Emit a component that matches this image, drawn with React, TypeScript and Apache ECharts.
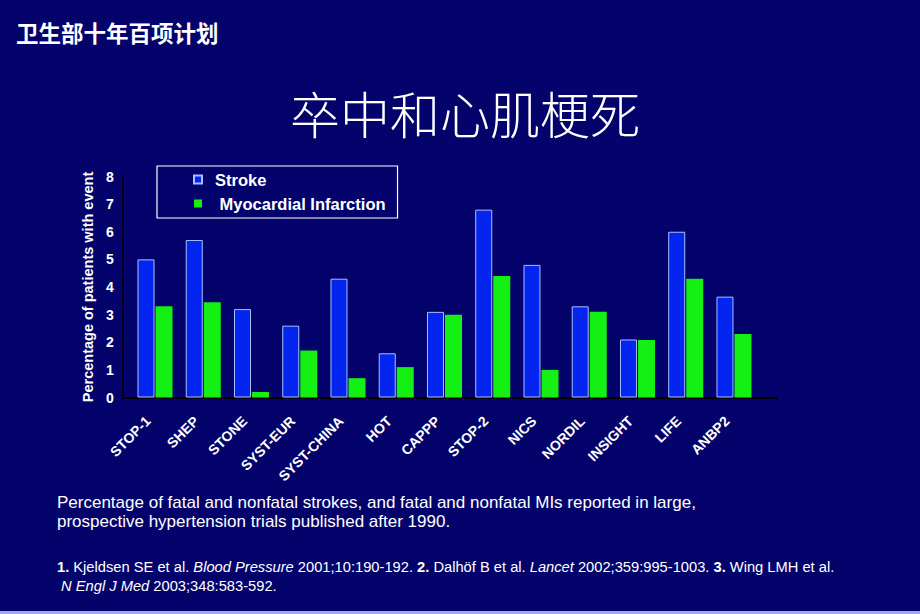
import React, { useEffect, useRef } from "react";
import * as echarts from "echarts";

const categories = ["STOP-1", "SHEP", "STONE", "SYST-EUR", "SYST-CHINA", "HOT", "CAPPP", "STOP-2", "NICS", "NORDIL", "INSIGHT", "LIFE", "ANBP2"];
const strokeValues = [5.0, 5.7, 3.2, 2.6, 4.3, 1.6, 3.1, 6.8, 4.8, 3.3, 2.1, 6.0, 3.65];
const miValues = [3.3, 3.45, 0.2, 1.7, 0.7, 1.1, 3.0, 4.4, 1.0, 3.1, 2.08, 4.3, 2.3];
const yTicks = [0, 1, 2, 3, 4, 5, 6, 7, 8];

const BG = "#03036b";
const BLUE = "#0424f0";
const GREEN = "#14f014";
const SANS = "'Liberation Sans', Arial, sans-serif";
const CJK = "'Noto Sans CJK SC', sans-serif";

export default function App() {
  const ref = useRef<HTMLDivElement>(null);
  useEffect(() => {
    if (!ref.current) return;
    const chart = echarts.init(ref.current, null, { renderer: "svg" });
    const top = 176.5;
    const bottom = 614 - 397.5;
    chart.setOption({
      animation: false,
      backgroundColor: BG,
      grid: [
        { left: 130.9, right: 161.9, top, bottom },
        { left: 122.7, right: 143, top, bottom },
      ],
      legend: {
        orient: "vertical",
        left: 157,
        top: 166,
        padding: [5, 12, 6, 36],
        itemGap: 7,
        itemWidth: 8,
        itemHeight: 8,
        borderColor: "#ffffff",
        borderWidth: 1.2,
        icon: "rect",
        formatter: (n: string) => (n === "Stroke" ? n : " " + n),
        textStyle: {
          color: "#ffffff",
          fontFamily: SANS,
          fontWeight: "bold",
          fontSize: 16.5,
          padding: [0, 0, 0, 8],
        },
        data: ["Stroke", "Myocardial Infarction"],
      },
      xAxis: [
        {
          type: "category",
          gridIndex: 0,
          data: categories,
          axisLine: { show: false },
          axisTick: { show: false },
          axisLabel: {
            rotate: 45,
            interval: 0,
            margin: 14,
            padding: [0, 10, 0, 0],
            color: "#ffffff",
            fontFamily: SANS,
            fontWeight: "bold",
            fontSize: 14,
          },
        },
        {
          type: "value",
          gridIndex: 1,
          min: 0,
          max: 1,
          axisLine: { show: true, lineStyle: { color: "#000000", width: 2 } },
          axisTick: { show: false },
          axisLabel: { show: false },
          splitLine: { show: false },
        },
      ],
      yAxis: [
        { type: "value", gridIndex: 0, min: 0, max: 8, show: false },
        {
          type: "value",
          gridIndex: 1,
          min: yTicks[0],
          max: yTicks[yTicks.length - 1],
          interval: 1,
          name: "Percentage of patients with event",
          nameLocation: "middle",
          nameRotate: 90,
          nameGap: 23,
          nameTextStyle: {
            color: "#ffffff",
            fontFamily: SANS,
            fontWeight: "bold",
            fontSize: 14.5,
          },
          axisLine: { show: true, lineStyle: { color: "#000000", width: 1.5 } },
          axisTick: { show: false },
          splitLine: { show: false },
          axisLabel: {
            margin: 9,
            color: "#ffffff",
            fontFamily: SANS,
            fontWeight: "bold",
            fontSize: 14,
          },
        },
      ],
      series: [
        {
          name: "Stroke",
          type: "bar",
          xAxisIndex: 0,
          yAxisIndex: 0,
          data: strokeValues,
          barWidth: 17,
          barGap: "6%",
          itemStyle: { color: BLUE, borderColor: "#a8c0ff", borderWidth: 1 },
        },
        {
          name: "Myocardial Infarction",
          type: "bar",
          xAxisIndex: 0,
          yAxisIndex: 0,
          data: miValues,
          barWidth: 17,
          itemStyle: { color: GREEN },
        },
      ],
      graphic: [
        {
          type: "text",
          left: 16,
          top: 21,
          style: {
            text: "卫生部十年百项计划",
            fill: "#ffffff",
            font: `bold 22.5px ${CJK}`,
          },
        },
        {
          type: "text",
          x: 465,
          y: 112,
          style: {
            text: "卒中和心肌梗死",
            fill: "#ffffff",
            font: `300 50px ${CJK}`,
            align: "center",
            verticalAlign: "middle",
          },
        },
        {
          type: "text",
          x: 57,
          y: 493,
          style: {
            text: "Percentage of fatal and nonfatal strokes, and fatal and nonfatal MIs reported in large,\nprospective hypertension trials published after 1990.",
            fill: "#ffffff",
            font: `17px ${SANS}`,
            lineHeight: 19,
          },
        },
        {
          type: "text",
          x: 57,
          y: 557,
          style: {
            text:
              "{b|1.} Kjeldsen SE et al. {i|Blood Pressure} 2001;10:190-192. {b|2.} Dalhöf B et al. {i|Lancet} 2002;359:995-1003. {b|3.} Wing LMH et al.\n {i|N Engl J Med} 2003;348:583-592.",
            fill: "#ffffff",
            font: `14.7px ${SANS}`,
            lineHeight: 19,
            rich: {
              b: { fontWeight: "bold", fontSize: 14.7, fontFamily: SANS, fill: "#ffffff", lineHeight: 19 },
              i: { fontStyle: "italic", fontSize: 14.7, fontFamily: SANS, fill: "#ffffff", lineHeight: 19 },
            },
          },
        },
        {
          type: "rect",
          shape: { x: 0, y: 611, width: 920, height: 3 },
          style: { fill: "#a6a6e6" },
        },
      ],
    });
    return () => chart.dispose();
  }, []);
  return <div ref={ref} style={{ position: "fixed", left: 0, top: 0, width: 920, height: 614 }} />;
}
